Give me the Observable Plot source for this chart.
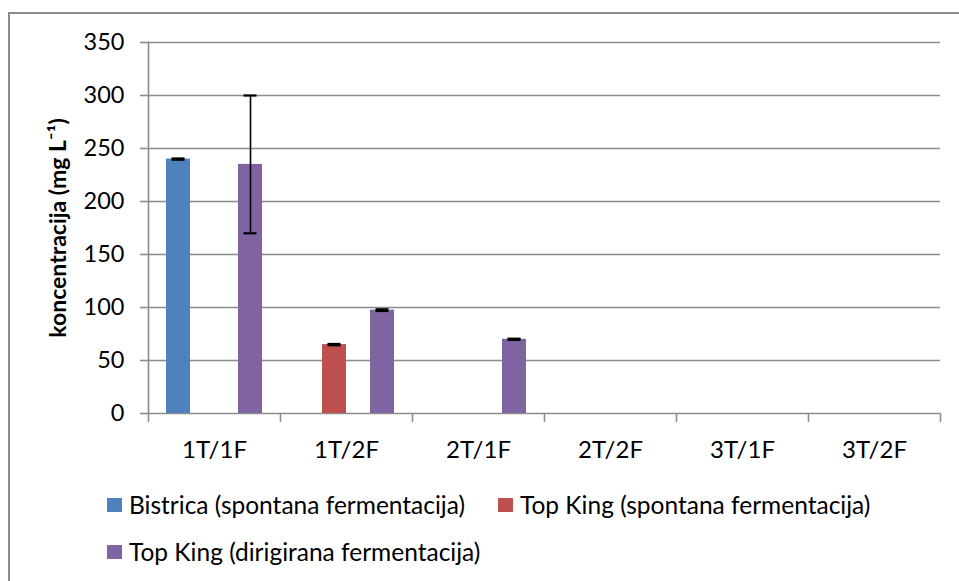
<!DOCTYPE html>
<html>
<head>
<meta charset="utf-8">
<script src="https://cdn.jsdelivr.net/npm/d3@7"></script>
<script src="https://cdn.jsdelivr.net/npm/@observablehq/plot@0.6"></script>
<style>
  html, body { margin: 0; padding: 0; background: #fff; overflow: hidden; }
  #page { position: relative; width: 959px; height: 581px; overflow: hidden; font-family: Lato, "Open Sans", sans-serif; }
  #border { position: absolute; left: 8px; top: 12px; width: 1200px; height: 1200px; border-top: 2px solid #8c8c8c; border-left: 2px solid #8c8c8c; box-sizing: border-box; }
  #chart { position: absolute; left: 0; top: 0; }
  .item { position: absolute; height: 30px; line-height: 30px; display: flex; align-items: center; font-size: 24.5px; color: #000; white-space: nowrap; }
  .sw { width: 15px; height: 14px; margin-right: 7px; flex: none; }
</style>
</head>
<body>
<div id="page">
  <div id="border"></div>
  <div id="chart"></div>
  <div id="legend"></div>
</div>
<script>
const categories = ["1T/1F", "1T/2F", "2T/1F", "2T/2F", "3T/1F", "3T/2F"];
const seriesNames = ["Bistrica (spontana fermentacija)", "Top King (spontana fermentacija)", "Top King (dirigirana fermentacija)"];
const seriesColors = ["#4F81BD", "#C0504D", "#8064A2"];
// Excel cluster has four slots; the third one is an empty series
const slots = [seriesNames[0], seriesNames[1], "", seriesNames[2]];
const bistricaSpontana = [240, 0, 0, 0, 0, 0];
const topKingSpontana = [0, 65, 0, 0, 0, 0];
const topKingDirigirana = [235, 97.5, 70, 0, 0, 0];
const bistricaSpontanaErr = [0.6, 0, 0, 0, 0, 0];
const topKingSpontanaErr = [0, 0.6, 0, 0, 0, 0];
const topKingDirigiranaErr = [65, 0.8, 0.6, 0, 0, 0];
const yTicks = [0, 50, 100, 150, 200, 250, 300, 350];
const yTitle = "koncentracija (mg L⁻¹)";

const values = [bistricaSpontana, topKingSpontana, topKingDirigirana];
const errs = [bistricaSpontanaErr, topKingSpontanaErr, topKingDirigiranaErr];
const rows = [];
seriesNames.forEach((s, si) => {
  categories.forEach((c, ci) => {
    rows.push({cat: c, series: s, value: values[si][ci], err: errs[si][ci]});
  });
});
const withErr = rows.filter(d => d.value > 0);

const grid = "#8c8c8c";
const plot = Plot.plot({
  width: 959,
  height: 470,
  marginTop: 42,
  marginLeft: 148,
  marginRight: 19,
  marginBottom: 57,
  style: {fontFamily: "Lato, 'Open Sans', sans-serif", fontSize: "24px", color: "#000", background: "transparent"},
  fx: {domain: categories, padding: 0, axis: null, label: null},
  x: {domain: slots, paddingInner: 0, paddingOuter: 0.75, axis: null},
  y: {domain: [0, 350], axis: null},
  color: {domain: seriesNames, range: seriesColors},
  marks: [
    Plot.ruleY(yTicks, {stroke: grid, strokeWidth: 1.6}),
    Plot.frame({anchor: "left", facetAnchor: "left", stroke: grid, strokeWidth: 1.6}),
    Plot.axisY({ticks: yTicks, tickSize: 8, tickPadding: 16, stroke: grid, strokeWidth: 1.6, fontSize: 23.5, label: null}),
    Plot.axisY({ticks: [], label: yTitle, labelAnchor: "center", labelArrow: "none", labelOffset: 99, fontSize: 23, fontWeight: "bold"}),
    Plot.axisFx({anchor: "bottom", tickSize: 0, tickPadding: 27, fontSize: 24, label: null}),
    Plot.axisFx({anchor: "bottom", tickSize: 9, tickFormat: () => "", dx: -66, stroke: grid, strokeWidth: 1.6, label: null}),
    Plot.axisFx({anchor: "bottom", ticks: categories.slice(-1), tickSize: 9, tickFormat: () => "", dx: 66, stroke: grid, strokeWidth: 1.6, label: null}),
    Plot.barY(rows, {fx: "cat", x: "series", y: "value", fill: "series"}),
    Plot.ruleX(withErr, {fx: "cat", x: "series", y1: d => d.value - d.err, y2: d => d.value + d.err, stroke: "#000", strokeWidth: 1.6}),
    Plot.tickY(withErr, {fx: "cat", x: "series", y: d => d.value + d.err, stroke: "#000", strokeWidth: 2.2, insetLeft: 5.5, insetRight: 5.5}),
    Plot.tickY(withErr, {fx: "cat", x: "series", y: d => d.value - d.err, stroke: "#000", strokeWidth: 2.2, insetLeft: 5.5, insetRight: 5.5})
  ]
});
document.getElementById("chart").appendChild(plot);

const legendPos = [[107, 490], [498, 490], [107, 537]];
const legend = document.getElementById("legend");
seriesNames.forEach((s, i) => {
  const item = document.createElement("div");
  item.className = "item";
  item.style.left = legendPos[i][0] + "px";
  item.style.top = legendPos[i][1] + "px";
  const sw = document.createElement("span");
  sw.className = "sw";
  sw.style.background = seriesColors[i];
  const t = document.createElement("span");
  t.textContent = s;
  item.appendChild(sw);
  item.appendChild(t);
  legend.appendChild(item);
});
</script>
</body>
</html>
